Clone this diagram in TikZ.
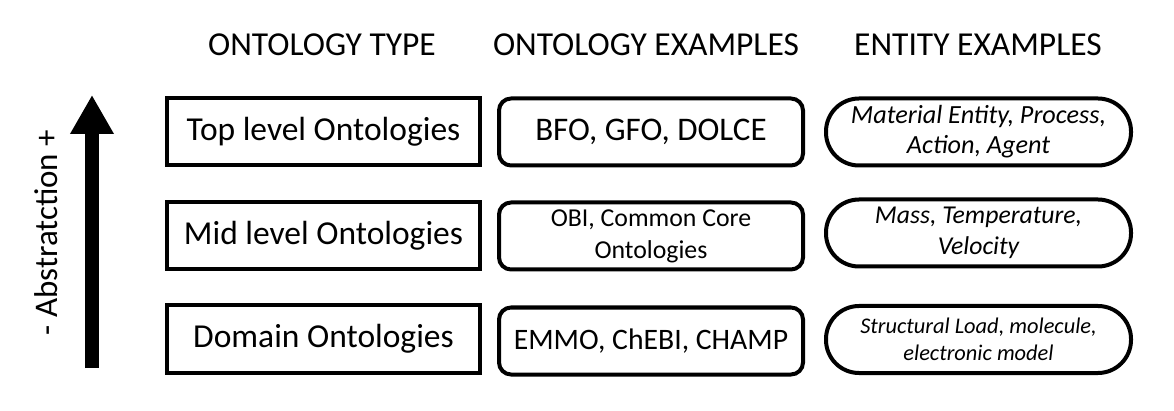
\documentclass[tikz,border=0pt]{standalone}
\usepackage{fontspec}
\setmainfont{Carlito}
\usetikzlibrary{arrows.meta, positioning}

\tikzset{
  typebox/.style={draw, line width=4pt, minimum width=313pt, minimum height=67pt, align=center, font=\fontsize{33.5}{38}\selectfont},
  examplebox/.style={draw, line width=4pt, rounded corners=12pt, minimum width=304pt, minimum height=67pt, align=center},
  entitybox/.style={draw, line width=4pt, rounded corners=33pt, minimum width=305pt, minimum height=67pt, align=center},
  header/.style={font=\fontsize{33.5}{38}\selectfont}
}

\begin{document}
\begin{tikzpicture}[x=1pt, y=-1pt]
  \useasboundingbox (0,0) rectangle (1174,411);

  % column headers
  \node[header] (hType) at (322,45) {ONTOLOGY TYPE};
  \node[header] (hOnto) at (646,45) {ONTOLOGY EXAMPLES};
  \node[header] (hEnt)  at (978,45) {ENTITY EXAMPLES};

  % ontology types
  \node[typebox] (topType) at (323.5,132) {Top level Ontologies};
  \node[typebox] (midType) at (323.5,236) {Mid level Ontologies};
  \node[typebox] (domType) at (323.5,339) {Domain Ontologies};

  % ontology examples
  \node[examplebox, font=\fontsize{33}{38}\selectfont] (topOnto) at (651,132) {BFO, GFO, DOLCE};
  \node[examplebox, font=\fontsize{25.8}{32}\selectfont] (midOnto) at (651,236) {OBI, Common Core\\Ontologies};
  \node[examplebox, font=\fontsize{29.7}{34}\selectfont] (domOnto) at (651,341) {EMMO, ChEBI, CHAMP};

  % entity examples
  \node[entitybox, font=\itshape\fontsize{26.2}{30}\selectfont] (topEnt) at (978.5,132) {Material Entity, Process,\\Action, Agent};
  \node[entitybox, font=\itshape\fontsize{25.7}{31}\selectfont] (midEnt) at (978.5,233) {Mass, Temperature,\\Velocity};
  \node[entitybox, font=\itshape\fontsize{22.4}{27}\selectfont] (domEnt) at (978.5,339.5) {Structural Load, molecule,\\electronic model};

  % abstraction arrow
  \coordinate (arrowTail) at (92,368);
  \coordinate (arrowTip)  at (92,95);
  \draw[line width=14pt, -{Triangle[width=41pt, length=39pt]}] (arrowTail) -- (arrowTip);
  \node[rotate=90, font=\fontsize{33}{38}\selectfont] (absLabel) at (46,232.5) {- Abstratction +};
\end{tikzpicture}
\end{document}
